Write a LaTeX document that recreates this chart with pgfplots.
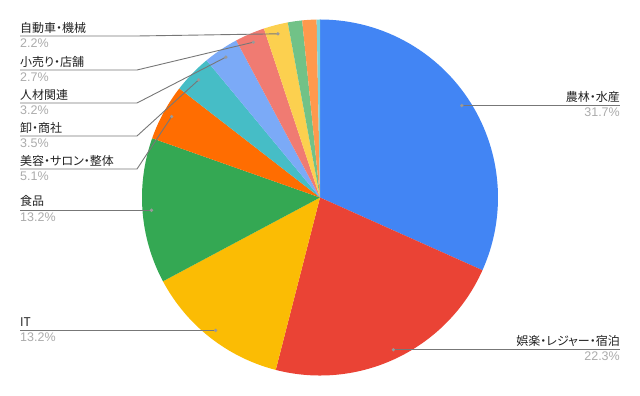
\documentclass[border=0pt]{standalone}
\usepackage{pgfplots}
\pgfplotsset{compat=1.18}
\usepackage{pgfplotstable}
\usepackage{fontspec}
\setmainfont[RawFeature=+palt]{Noto Sans CJK JP}
\newfontfamily\pctfont{Liberation Sans}
\definecolor{labeltext}{HTML}{222222}
\definecolor{pcttext}{HTML}{ABABAB}
\definecolor{leader}{HTML}{777777}
\definecolor{dotc}{HTML}{999999}

\pgfplotstableread{
value hex
31.7 4285F4
22.3 EA4335
13.2 FBBC04
13.2 34A853
5.1 FF6D01
3.5 46BDC6
3.2 7BAAF7
2.7 F07B72
2.2 FCD04F
1.3 71C287
1.3 FF994D
0.3 7ED1D7
}\piedata

\begin{document}
\begin{tikzpicture}
\begin{axis}[width=640pt, height=396pt, scale only axis,
  xmin=0, xmax=640, ymin=0, ymax=396, hide axis, clip=false]
\pgfplotsextra{
  \path (axis cs:0,0) rectangle (axis cs:640,396);
  \pgfplotstablegetrowsof{\piedata}
  \pgfmathtruncatemacro\lastrow{\pgfplotsretval-1}
  \gdef\curangle{90}
  \foreach \i in {0,...,\lastrow}{
    \pgfplotstablegetelem{\i}{value}\of\piedata
    \pgfmathsetmacro\v{\pgfplotsretval}
    \pgfplotstablegetelem{\i}{hex}\of\piedata
    \definecolor{slice}{HTML}{\pgfplotsretval}
    \pgfmathsetmacro\endangle{\curangle-3.6*\v}
    \pgfmathsetmacro\midangle{\curangle-1.8*\v}
    \fill[slice] (axis cs:320,198.5) -- ++(\curangle:178pt)
      arc[start angle=\curangle, end angle=\endangle, radius=178pt] -- cycle;
    \path (axis cs:320,198.5) ++(\midangle:169pt) coordinate (d\i);
    \xdef\curangle{\endangle}
  }
  % leader lines
  \begin{scope}[leader, line width=0.9pt]
    \draw (axis cs:20,360) -- (axis cs:137,360) -- (d8);
    \draw (axis cs:20,326) -- (axis cs:137,326) -- (d7);
    \draw (axis cs:20,293) -- (axis cs:137,293) -- (d6);
    \draw (axis cs:20,260) -- (axis cs:137,260) -- (d5);
    \draw (axis cs:20,227) -- (axis cs:137,227) -- (d4);
    \draw ({axis cs:20,0} |- d3) -- (d3);
    \draw ({axis cs:20,0} |- d2) -- (d2);
    \draw (d0) -- ({axis cs:620,0} |- d0);
    \draw (d1) -- ({axis cs:620,0} |- d1);
  \end{scope}
  \foreach \i in {0,...,8}{\fill[dotc] (d\i) circle (1.8pt);}
  % labels
  \begin{scope}[every node/.style={inner sep=0pt, font=\fontsize{12}{14}\selectfont},
      pct/.style={pcttext, font=\pctfont\fontsize{12.5}{14}\selectfont}]
    \node[anchor=base west, labeltext] at (axis cs:20,363.5) {自動車・機械};
    \node[anchor=base west, pct] at (axis cs:20,348) {2.2\%};
    \node[anchor=base west, labeltext] at (axis cs:20,329.5) {小売り・店舗};
    \node[anchor=base west, pct] at (axis cs:20,314) {2.7\%};
    \node[anchor=base west, labeltext] at (axis cs:20,296.5) {人材関連};
    \node[anchor=base west, pct] at (axis cs:20,281) {3.2\%};
    \node[anchor=base west, labeltext] at (axis cs:20,263.5) {卸・商社};
    \node[anchor=base west, pct] at (axis cs:20,248) {3.5\%};
    \node[anchor=base west, labeltext] at (axis cs:20,230.5) {美容・サロン・整体};
    \node[anchor=base west, pct] at (axis cs:20,215) {5.1\%};
    \node[anchor=base west, labeltext] at (axis cs:20,190) {食品};
    \node[anchor=base west, pct] at (axis cs:20,174) {13.2\%};
    \node[anchor=base west, labeltext] at (axis cs:20,69) {IT};
    \node[anchor=base west, pct] at (axis cs:20,54) {13.2\%};
    \node[anchor=base east, labeltext] at (axis cs:620,294.5) {農林・水産};
    \node[anchor=base east, pct] at (axis cs:620,279) {31.7\%};
    \node[anchor=base east, labeltext] at (axis cs:620,50.5) {娯楽・レジャー・宿泊};
    \node[anchor=base east, pct] at (axis cs:620,35) {22.3\%};
  \end{scope}
}
\end{axis}
\end{tikzpicture}
\end{document}
